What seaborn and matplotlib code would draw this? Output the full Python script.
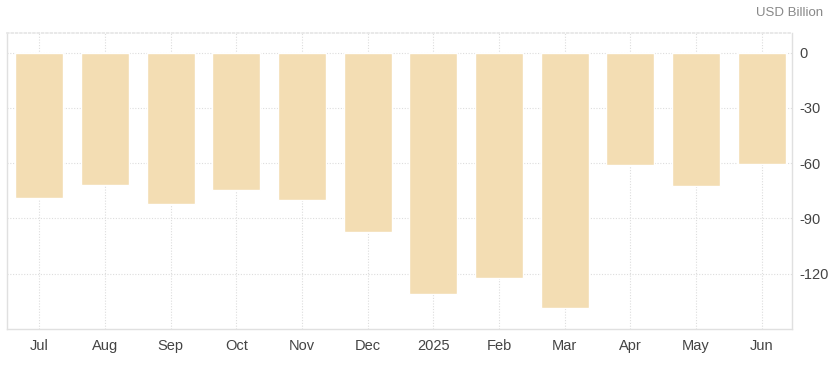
import numpy as np
import pandas as pd
import seaborn as sns
import matplotlib.pyplot as plt

months = ["Jul", "Aug", "Sep", "Oct", "Nov", "Dec", "2025", "Feb", "Mar", "Apr", "May", "Jun"]
balance = [-78.7, -71.6, -81.9, -74.3, -79.8, -97.1, -130.8, -122.1, -138.4, -60.8, -72.2, -60.2]
yticks = [0, -30, -60, -90, -120]

df = pd.DataFrame({"month": months, "balance": balance})

sns.set_theme(style="white")
plt.rcParams["font.family"] = ["Liberation Sans", "DejaVu Sans"]

fig = plt.figure(figsize=(8.34, 3.67), dpi=100)
ax = fig.add_axes([7 / 834, 1 - 329 / 367, 785 / 834, 296 / 367])

sns.barplot(data=df, x="month", y="balance", color="#F3DDB3", saturation=1,
            width=0.73, ax=ax, zorder=2)

ax.set_xlim(-0.49, 11.46)
ax.set_ylim(-150, 10.7)
ax.set_yticks(yticks)
ax.set_yticklabels([str(v) for v in yticks])
ax.yaxis.tick_right()
ax.tick_params(axis="both", length=0, labelsize=10.5, labelcolor="#444444")
ax.tick_params(axis="y", pad=5)
ax.tick_params(axis="x", pad=7)
ax.set_xlabel("")
ax.set_ylabel("")

ax.grid(True, color="#dddddd", linestyle=(0, (1, 1.5)), linewidth=0.8, zorder=0)
ax.set_axisbelow(True)

for side in ["left", "bottom", "right"]:
    ax.spines[side].set_color("#e0e0e0")
    ax.spines[side].set_linewidth(1)
ax.spines["top"].set_color("#e6e6e6")
ax.spines["top"].set_linestyle((0, (1, 1.5)))

fig.text(823 / 834, 1 - 13 / 367, "USD Billion", ha="right", va="center",
         fontsize=9.5, color="#888888")

fig.savefig("out.png", dpi=100)
